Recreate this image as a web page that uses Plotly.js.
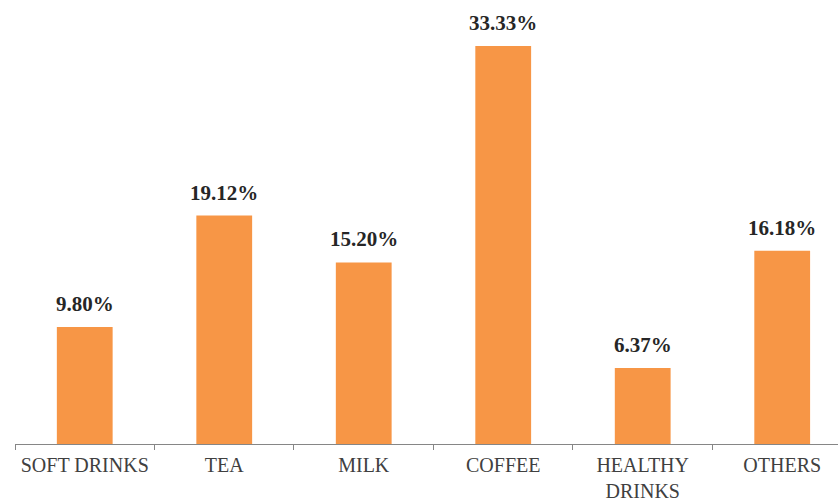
<!DOCTYPE html>
<html>
<head>
<meta charset="utf-8">
<script src="https://cdn.plot.ly/plotly-3.0.1.min.js"></script>
<style>html,body{margin:0;padding:0;background:#fff;}#chart{width:838px;height:501px;}</style>
</head>
<body>
<div id="chart"></div>
<script>
const categories = ["SOFT DRINKS", "TEA", "MILK", "COFFEE", "HEALTHY<br>DRINKS", "OTHERS"];
const values = [9.80, 19.12, 15.20, 33.33, 6.37, 16.18];
const valueLabels = values.map(v => v.toFixed(2) + "%");

const SERIF = "'Liberation Serif', 'DejaVu Serif', serif";

const trace = {
  type: "bar",
  x: categories,
  y: values,
  marker: {color: "#F79646"},
  width: 0.4,
  hoverinfo: "none"
};

const annotations = categories.map((c, i) => ({
  x: c, y: values[i], xref: "x", yref: "y",
  text: "<b>" + valueLabels[i] + "</b>", showarrow: false,
  yanchor: "bottom", yshift: 9,
  font: {family: SERIF, size: 21, color: "#262626"}
}));

const layout = {
  width: 838, height: 501,
  margin: {l: 15, r: 0, t: 14, b: 57},
  paper_bgcolor: "#fff", plot_bgcolor: "#fff",
  showlegend: false,
  font: {family: SERIF},
  xaxis: {
    type: "category",
    range: [-0.5, 5.4],
    showline: true, linecolor: "#868686", linewidth: 1,
    ticks: "outside", tickson: "boundaries", ticklen: 5, tickcolor: "#868686",
    ticklabelstandoff: 3, tickangle: 0,
    showgrid: false, zeroline: false,
    tickfont: {family: SERIF, size: 20, color: "#404040"}
  },
  yaxis: {range: [0, 36], visible: false, showgrid: false, zeroline: false},
  annotations: annotations
};

Plotly.newPlot("chart", [trace], layout, {displayModeBar: false, staticPlot: true});
</script>
</body>
</html>
